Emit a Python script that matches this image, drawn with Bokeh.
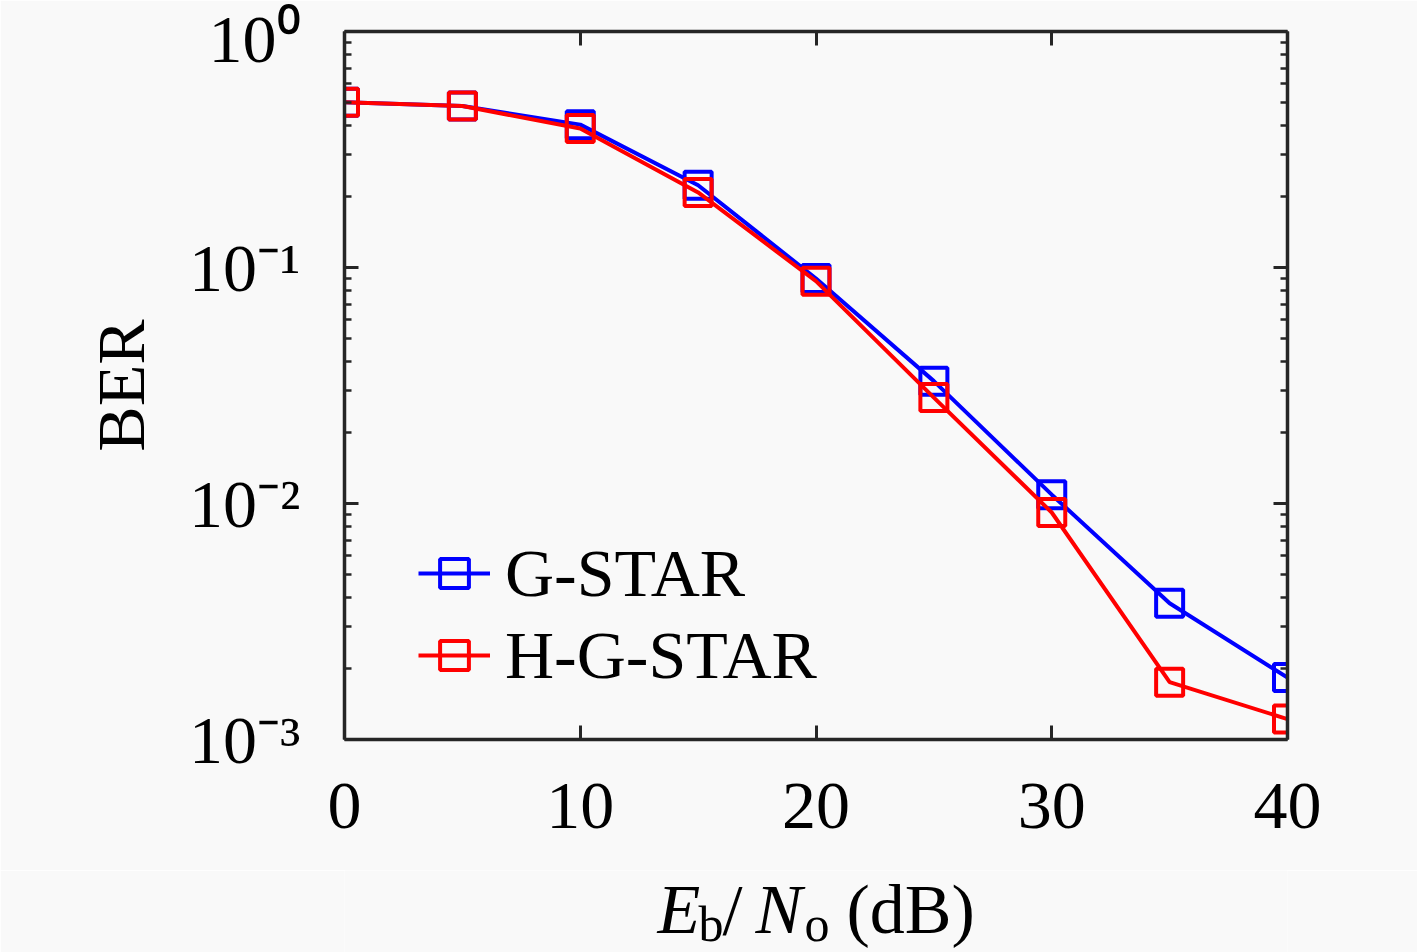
from bokeh.plotting import figure
from bokeh.layouts import column
from bokeh.models import (LogAxis, LinearAxis, FixedTicker, CustomJSTickFormatter,
                          Legend, LegendItem, Range1d)
from bokeh.core.properties import value
from bokeh.embed import file_html
from bokeh.resources import INLINE

# ---- data ----
snr_db = [0, 5, 10, 15, 20, 25, 30, 35, 40]
ber_gstar = [0.502, 0.483, 0.403, 0.223, 0.0898, 0.0330, 0.0109, 0.00378, 0.00183]
ber_hgstar = [0.502, 0.483, 0.388, 0.208, 0.0875, 0.0281, 0.00916, 0.00175, 0.00122]
series_names = ["G-STAR", "H-G-STAR"]
series_colors = ["#0000ff", "#ff0000"]

x_ticks = [0, 10, 20, 30, 40]
y_ticks = [1e-3, 1e-2, 1e-1, 1.0]
y_tick_labels = ["10\u207b\u00b3", "10\u207b\u00b2", "10\u207b\u00b9", "10\u2070"]
y_minor_ticks = [m * d for d in [1e-3, 1e-2, 1e-1] for m in range(2, 10)]

FONT = "Liberation Serif"
BG = "#f9f9f9"
AXC = "#262626"
W = 1417
H_MAIN = 870
H_LAB = 82

p = figure(width=W, height=H_MAIN, y_axis_type="log",
           x_range=Range1d(0, 40), y_range=Range1d(1e-3, 1.0),
           output_backend="svg", toolbar_location=None,
           min_border_left=344, min_border_right=130,
           min_border_top=31, min_border_bottom=131,
           background_fill_color=BG, border_fill_color=BG)
p.grid.visible = False
p.outline_line_color = None

xt = FixedTicker(ticks=x_ticks, minor_ticks=[])
yt = FixedTicker(ticks=y_ticks, minor_ticks=y_minor_ticks)
yfmt = CustomJSTickFormatter(args=dict(yvals=y_ticks, ylabs=y_tick_labels), code="""
    let best = 0, bd = 1e9;
    for (let i = 0; i < yvals.length; i++) {
        const d = Math.abs(Math.log10(yvals[i]) - Math.log10(tick));
        if (d < bd) { bd = d; best = i; }
    }
    return ylabs[best];
""")
empty = CustomJSTickFormatter(code="return '';")

def style(ax, labels=True):
    ax.axis_line_color = AXC
    ax.axis_line_width = 3.5
    ax.major_tick_line_color = AXC
    ax.minor_tick_line_color = AXC
    ax.major_tick_line_width = 3
    ax.minor_tick_line_width = 2.5
    ax.major_tick_in = 14
    ax.major_tick_out = 0
    ax.minor_tick_in = 7
    ax.minor_tick_out = 0
    ax.major_label_text_font = FONT
    ax.major_label_text_font_size = "68px" if labels else "8px"
    ax.major_label_text_color = "black"
    if not labels:
        ax.major_label_standoff = 0

xb = p.xaxis[0]
xb.ticker = xt
style(xb)
xb.major_label_standoff = 44

yl = p.yaxis[0]
yl.ticker = yt
yl.formatter = yfmt
style(yl)
yl.major_label_standoff = 44
yl.axis_label = "BER"
yl.axis_label_text_font = FONT
yl.axis_label_text_font_style = "normal"
yl.axis_label_text_font_size = "68px"
yl.axis_label_text_color = "black"
yl.axis_label_standoff = 27

xa = LinearAxis(ticker=xt, formatter=empty)
style(xa, labels=False)
p.add_layout(xa, "above")
yr = LogAxis(ticker=yt, formatter=empty)
style(yr, labels=False)
p.add_layout(yr, "right")

items = []
for name, col, ys in zip(series_names, series_colors, [ber_gstar, ber_hgstar]):
    ln = p.line(snr_db, ys, line_color=col, line_width=4)
    mk = p.scatter(snr_db, ys, marker="square", size=27, line_color=col,
                   line_width=4, fill_color=None)
    items.append(LegendItem(label=name, renderers=[ln, mk]))

leg = Legend(items=items, location=(74, 43), margin=0, padding=0, spacing=0,
             glyph_width=72, glyph_height=82, label_height=82,
             label_standoff=15, border_line_color=None,
             background_fill_color=None, background_fill_alpha=0,
             label_text_font=FONT, label_text_font_size="68px",
             label_text_color="black")
p.add_layout(leg, "center")

# ---- x-axis title strip (shares the x scale of the plot above) ----
q = figure(width=W, height=H_LAB, x_range=p.x_range, y_range=Range1d(0, H_LAB),
           output_backend="svg", toolbar_location=None,
           x_axis_location=None, y_axis_location=None,
           min_border=0, min_border_left=344, min_border_right=130,
           min_border_top=0, min_border_bottom=0,
           background_fill_color=BG, border_fill_color=BG)
q.grid.visible = False
q.outline_line_color = None

# (text, x in plot units, height above strip bottom, style, size)
pieces = [
    ("E", 13.28, 43, "italic", "70px"),
    ("b", 15.02, 29, "normal", "50px"),
    ("/", 16.03, 43, "normal", "72px"),
    ("N", 17.43, 43, "italic", "70px"),
    ("o", 19.51, 29, "normal", "50px"),
    ("(dB)", 21.29, 43, "normal", "70px"),
]
for txt, xx, yy, sty, fs in pieces:
    q.text(x=[xx], y=[yy], text=[txt], text_font=value(FONT),
           text_font_style=sty, text_font_size=value(fs),
           text_baseline="alphabetic", text_align="left", text_color="black")

layout = column(p, q, spacing=0)
open("out.html", "w").write(file_html(layout, INLINE))
